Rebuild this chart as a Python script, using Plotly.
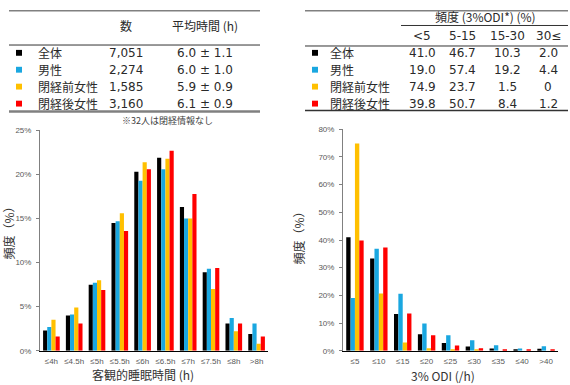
import plotly.graph_objects as go

W, H = 570, 385

groups = ["全体", "男性", "閉経前女性", "閉経後女性"]
colors = ["#000000", "#1AA7E0", "#FFC000", "#FF0000"]

counts = ["7,051", "2,274", "1,585", "3,160"]
mean_sleep = ["6.0 ± 1.1", "6.0 ± 1.0", "5.9 ± 0.9", "6.1 ± 0.9"]

odi_bins = ["<5", "5-15", "15-30", "30≤"]
odi_freq = [
    ["41.0", "46.7", "10.3", "2.0"],
    ["19.0", "57.4", "19.2", "4.4"],
    ["74.9", "23.7", "1.5", "0"],
    ["39.8", "50.7", "8.4", "1.2"],
]

sleep_cats = ["≤4h", "≤4.5h", "≤5h", "≤5.5h", "≤6h", "≤6.5h", "≤7h", "≤7.5h", "≤8h", ">8h"]
sleep_vals = [
    [2.3, 4.0, 7.5, 14.5, 20.3, 21.9, 16.3, 8.9, 3.1, 1.9],
    [2.7, 4.1, 7.7, 14.7, 19.3, 20.6, 15.0, 9.3, 3.7, 3.1],
    [3.5, 4.9, 8.0, 15.6, 21.4, 21.8, 15.0, 7.0, 2.2, 0.8],
    [1.6, 3.1, 6.9, 13.6, 20.6, 22.7, 17.8, 9.4, 3.1, 1.6],
]

odi_cats = ["≤5", "≤10", "≤15", "≤20", "≤25", "≤30", "≤35", "≤40", ">40"]
odi_vals = [
    [41.0, 33.3, 13.3, 5.9, 2.8, 1.5, 0.8, 0.5, 0.7],
    [19.0, 36.8, 20.6, 9.8, 5.6, 3.8, 2.0, 0.8, 1.6],
    [74.9, 20.7, 3.0, 0.9, 0.4, 0.2, 0.0, 0.0, 0.0],
    [39.8, 37.3, 13.4, 5.6, 1.9, 0.9, 0.5, 0.3, 0.4],
]


def px(x):
    return x / W


def py(y):
    return 1 - y / H


fig = go.Figure()
for g, c, sv, ov in zip(groups, colors, sleep_vals, odi_vals):
    fig.add_trace(go.Bar(x=sleep_cats, y=sv, name=g, marker_color=c,
                         marker_line_width=0, xaxis="x", yaxis="y", showlegend=False))
    fig.add_trace(go.Bar(x=odi_cats, y=ov, name=g, marker_color=c,
                         marker_line_width=0, xaxis="x2", yaxis="y2", showlegend=False))

tickfont = dict(family="Liberation Sans, Arial", size=8, color="#595959")
axcommon = dict(showgrid=False, zeroline=False, fixedrange=True)
xcommon = dict(showline=True, linecolor="#000000", linewidth=1, ticks="outside",
               ticklen=3, tickcolor="rgba(0,0,0,0)", tickfont=tickfont, **axcommon)
ycommon = dict(ticksuffix="%", showline=True, linecolor="#808080", linewidth=1,
               ticks="outside", ticklen=3, tickcolor="#808080", ticklabelstandoff=3,
               tickfont=tickfont, **axcommon)

fig.update_layout(
    width=W, height=H,
    margin=dict(l=0, r=0, t=0, b=0),
    paper_bgcolor="white", plot_bgcolor="white",
    barmode="group", bargap=0.27, bargroupgap=0,
    xaxis=dict(domain=[px(40), px(268)], anchor="y", **xcommon),
    yaxis=dict(domain=[py(355), py(129.5)], anchor="x", range=[0, 25], dtick=5, **ycommon),
    xaxis2=dict(domain=[px(343), px(558)], anchor="y2", **xcommon),
    yaxis2=dict(domain=[py(355), py(128.3)], anchor="x2", range=[0, 80], dtick=10, **ycommon),
)

tfont = dict(family="DejaVu Sans, Noto Sans CJK JP", size=12, color="#2a2a2a")
jfont = dict(family="Noto Sans CJK JP, DejaVu Sans", size=12, color="#2a2a2a")
ann = []
shapes = []


def text(x, y, s, font, xanchor="center", angle=0):
    ann.append(dict(x=px(x), y=py(y), xref="paper", yref="paper", text=s, showarrow=False,
                    font=font, xanchor=xanchor, yanchor="middle", textangle=angle))


def hline(x0, x1, y, color, width):
    shapes.append(dict(type="line", xref="paper", yref="paper", x0=px(x0), x1=px(x1),
                       y0=py(y), y1=py(y), line=dict(color=color, width=width)))


row_y = [50, 67.3, 84.6, 102]

# Left table
hline(9, 260, 7, "#808080", 1.5)
hline(9, 260, 42, "#333333", 1)
hline(9, 260, 110, "#808080", 2.5)
text(126, 22, "数", jfont)
text(205, 22, "平均時間 (h)", jfont)
for i, g in enumerate(groups):
    y = row_y[i]
    shapes.append(dict(type="rect", xref="paper", yref="paper", x0=px(16), x1=px(22),
                       y0=py(y + 3), y1=py(y - 3), fillcolor=colors[i], line_width=0))
    text(36, y, g, jfont, xanchor="left")
    text(126, y, counts[i], tfont)
    text(205, y, mean_sleep[i], tfont)
text(167, 119, "※32人は閉経情報なし", dict(family="Noto Sans CJK JP", size=9, color="#404040"))

# Right table
hline(305, 568, 7, "#808080", 1.5)
hline(401, 568, 22, "#333333", 1)
hline(305, 568, 43, "#333333", 1)
hline(305, 568, 109, "#333333", 1.5)
text(485, 13, "頻度 (3%ODI*) (%)", jfont)
col_x = [422, 462, 507, 548]
for cx, b in zip(col_x, odi_bins):
    text(cx, 33, b, tfont)
for i, g in enumerate(groups):
    y = row_y[i]
    shapes.append(dict(type="rect", xref="paper", yref="paper", x0=px(312), x1=px(318),
                       y0=py(y + 3), y1=py(y - 3), fillcolor=colors[i], line_width=0))
    text(328, y, g, jfont, xanchor="left")
    for cx, v in zip(col_x, odi_freq[i]):
        text(cx, y, v, tfont)

# Axis titles
atfont = dict(family="Noto Sans CJK JP", size=12, color="#333333")
text(143, 379, "客観的睡眠時間 (h)", atfont)
text(443, 380.5, "3% ODI (/h)", atfont)
text(9, 232, "頻度（%）", atfont, angle=-90)
text(298, 237, "頻度（%）", atfont, angle=-90)

fig.update_layout(annotations=ann, shapes=shapes)
fig.write_html("out.html")
